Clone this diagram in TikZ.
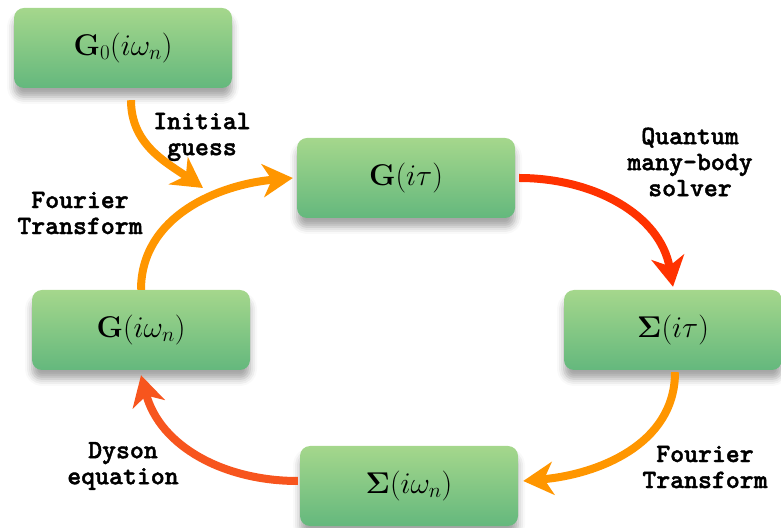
\documentclass[tikz,border=0pt]{standalone}
\usepackage{fix-cm}
\usepackage{amsmath}
\usepackage[no-math]{fontspec}
\newfontfamily\labelfont{lmmonolt10-bold}[Extension=.otf,FakeBold=1.6]
\usetikzlibrary{arrows.meta,shadows.blur}
\definecolor{boxtop}{RGB}{165,215,140}
\definecolor{boxbot}{RGB}{100,184,125}
\definecolor{arrorange}{RGB}{255,150,0}
\definecolor{arrred}{RGB}{255,50,0}
\definecolor{arrdyson}{RGB}{247,85,30}

\begin{document}
\begin{tikzpicture}[x=1pt,y=1pt,
  box/.style={rounded corners=10pt,minimum width=218pt,minimum height=80pt,
    top color=boxtop,bottom color=boxbot,
    blur shadow={shadow xshift=0pt,shadow yshift=-9pt,shadow blur radius=7pt,shadow opacity=35},
    font=\fontsize{30}{36}\selectfont},
  arr/.style={line width=8pt,-{Stealth[length=30pt,width=33pt,inset=9pt]}},
  lbl/.style={align=center,font=\labelfont\fontsize{26.5}{26}\selectfont}]
\useasboundingbox (0,0) rectangle (781,527);
\node[box] (G0) at (123,479) {$\mathbf{G}_0(i\omega_n)$};
\node[box] (Gt) at (406,349) {$\mathbf{G}(i\tau)$};
\node[box] (St) at (673,197) {$\mathbf{\Sigma}(i\tau)$};
\node[box] (Gw) at (141,197) {$\mathbf{G}(i\omega_n)$};
\node[box] (Sw) at (409,41) {$\mathbf{\Sigma}(i\omega_n)$};
\coordinate (guess) at (203,339);
\draw[arr,arrorange] ([xshift=8pt,yshift=-12pt]G0.south) to[out=-90,in=145] (guess);
\draw[arr,arrorange] (Gw.north) to[out=90,in=185] ([xshift=-4pt]Gt.west);
\draw[arr,arrred] ([xshift=4pt]Gt.east) to[out=0,in=100] ([yshift=3pt]St.north);
\draw[arr,arrorange] ([xshift=2pt,yshift=-2pt]St.south) to[out=-90,in=5] ([xshift=5pt,yshift=5pt]Sw.east);
\draw[arr,arrdyson] ([xshift=-2pt,yshift=5pt]Sw.west) to[out=180,in=-75] ([yshift=-5pt]Gw.south);
\node[lbl] (l1) at (202,390) {Initial\\guess};
\node[lbl] (l2) at (690,365) {Quantum\\many-body\\solver};
\node[lbl] (l3) at (80,314) {Fourier\\Transform};
\node[lbl] (l4) at (705,60) {Fourier\\Transform};
\node[lbl] (l5) at (123,61) {Dyson\\equation};
\end{tikzpicture}
\end{document}
